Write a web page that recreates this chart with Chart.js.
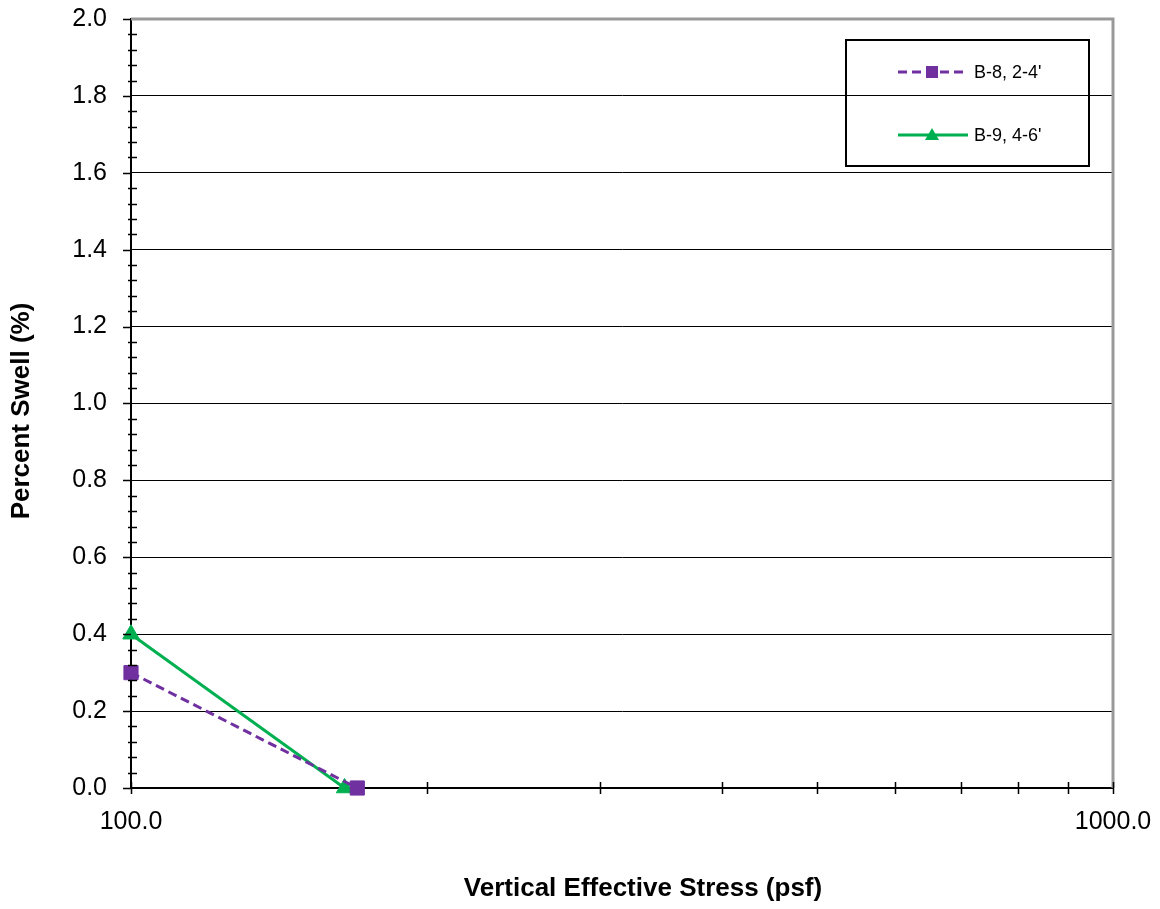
<!DOCTYPE html>
<html>
<head>
<meta charset="utf-8">
<script src="https://cdn.jsdelivr.net/npm/chart.js@4.4.1/dist/chart.umd.min.js"></script>
<style>
    html, body { margin: 0; padding: 0; background: #fff; }
</style>
</head>
<body>
<canvas id="myChart" width="1160" height="909"></canvas>
<script>
// data
const seriesNames = ["B-8, 2-4'", "B-9, 4-6'"];
const b8Stress = [100, 170];
const b8Swell = [0.3, 0.0];
const b9Stress = [100, 165];
const b9Swell = [0.4, 0.0];

// axis setup
const xTickValues = [100, 200, 300, 400, 500, 600, 700, 800, 900, 1000];
const xLabelValues = [100, 1000];
const yMin = 0, yMax = 2.0, yStep = 0.2, yMinorStep = 0.04;
const xTitle = "Vertical Effective Stress (psf)";
const yTitle = "Percent Swell (%)";

const FONT = "'Liberation Sans', Arial, sans-serif";

const toPoints = (xs, ys) => xs.map((x, i) => ({ x: x, y: ys[i] }));

// tick marks, frame, titles and the boxed legend
const extrasPlugin = {
    id: 'extras',
    afterDraw(chart) {
        const ctx = chart.ctx;
        const area = chart.chartArea;
        const xs = chart.scales.x;
        const ys = chart.scales.y;
        ctx.save();

        // gray top / right frame
        ctx.strokeStyle = '#999';
        ctx.lineWidth = 3;
        ctx.beginPath();
        ctx.moveTo(area.left, area.top);
        ctx.lineTo(area.right, area.top);
        ctx.lineTo(area.right, area.bottom);
        ctx.stroke();

        // y ticks
        ctx.strokeStyle = '#000';
        ctx.lineWidth = 1.5;
        ctx.beginPath();
        for (let v = yMin; v <= yMax + 1e-9; v += yMinorStep) {
            const py = Math.round(ys.getPixelForValue(v)) + 0.5;
            const major = Math.abs(v / yStep - Math.round(v / yStep)) < 1e-6;
            if (major) {
                ctx.moveTo(area.left - 8, py);
                ctx.lineTo(area.left, py);
            } else {
                ctx.moveTo(area.left - 3, py);
                ctx.lineTo(area.left + 6, py);
            }
        }
        // x ticks
        xTickValues.forEach(v => {
            const px = Math.round(xs.getPixelForValue(v)) + 0.5;
            ctx.moveTo(px, area.bottom - 6);
            ctx.lineTo(px, area.bottom + 6);
        });
        ctx.stroke();

        // axis titles
        ctx.fillStyle = '#000';
        ctx.font = 'bold 26px ' + FONT;
        ctx.textAlign = 'center';
        ctx.textBaseline = 'middle';
        ctx.fillText(xTitle, 643, 889);
        ctx.save();
        ctx.translate(22, 411);
        ctx.rotate(-Math.PI / 2);
        ctx.fillText(yTitle, 0, 0);
        ctx.restore();

        // legend box
        ctx.strokeStyle = '#000';
        ctx.lineWidth = 2;
        ctx.strokeRect(846, 40, 243, 126);
        const rows = [72, 135];
        chart.data.datasets.forEach((ds, i) => {
            const y = rows[i];
            ctx.strokeStyle = ds.borderColor;
            ctx.lineWidth = ds.borderWidth;
            ctx.setLineDash(ds.borderDash || []);
            ctx.beginPath();
            ctx.moveTo(898, y);
            ctx.lineTo(968, y);
            ctx.stroke();
            ctx.setLineDash([]);
            ctx.fillStyle = ds.pointBackgroundColor;
            if (ds.pointStyle === 'rect') {
                ctx.fillRect(926, y - 6, 12, 12);
            } else {
                ctx.beginPath();
                ctx.moveTo(932, y - 7);
                ctx.lineTo(939, y + 5);
                ctx.lineTo(925, y + 5);
                ctx.closePath();
                ctx.fill();
            }
            ctx.fillStyle = '#000';
            ctx.font = '18px ' + FONT;
            ctx.textAlign = 'left';
            ctx.textBaseline = 'middle';
            ctx.fillText(ds.label, 974, y + 1);
        });
        ctx.restore();
    }
};

const ctx = document.getElementById('myChart').getContext('2d');
const chart = new Chart(ctx, {
    type: 'scatter',
    data: {
        datasets: [{
            label: seriesNames[0],
            data: toPoints(b8Stress, b8Swell),
            showLine: true,
            borderColor: '#7030A0',
            backgroundColor: '#7030A0',
            pointBackgroundColor: '#7030A0',
            pointBorderColor: '#7030A0',
            borderWidth: 3,
            borderDash: [9, 5],
            pointStyle: 'rect',
            pointRadius: 10,
            pointBorderWidth: 1,
            clip: false
        }, {
            label: seriesNames[1],
            data: toPoints(b9Stress, b9Swell),
            showLine: true,
            borderColor: '#00B050',
            backgroundColor: '#00B050',
            pointBackgroundColor: '#00B050',
            pointBorderColor: '#00B050',
            borderWidth: 3,
            pointStyle: 'triangle',
            pointRadius: 9.5,
            pointBorderWidth: 1,
            clip: false
        }]
    },
    options: {
        responsive: false,
        animation: false,
        layout: { padding: { top: 19, right: 47, left: 0, bottom: 0 } },
        plugins: {
            legend: { display: false },
            tooltip: { enabled: false }
        },
        scales: {
            x: {
                type: 'logarithmic',
                min: 100,
                max: 1000,
                afterBuildTicks(scale) {
                    scale.ticks = xTickValues.map(v => ({ value: v }));
                },
                afterFit(scale) {
                    scale.height = 121;
                    scale.paddingLeft = 0;
                    scale.paddingRight = 0;
                },
                ticks: {
                    autoSkip: false,
                    maxRotation: 0,
                    padding: 19,
                    color: '#000',
                    font: { family: FONT, size: 25 },
                    callback: (v) => xLabelValues.includes(v) ? v.toFixed(1) : ''
                },
                grid: { display: false, drawTicks: false },
                border: { display: true, color: '#000', width: 2 }
            },
            y: {
                min: yMin,
                max: yMax,
                afterFit(scale) {
                    scale.width = 131;
                    scale.paddingTop = 0;
                    scale.paddingBottom = 0;
                },
                ticks: {
                    stepSize: yStep,
                    padding: 24,
                    color: '#000',
                    font: { family: FONT, size: 25 },
                    callback: (v) => v.toFixed(1)
                },
                grid: { color: '#000', lineWidth: 1, drawTicks: false },
                border: { display: true, color: '#000', width: 2 }
            }
        }
    },
    plugins: [extrasPlugin]
});
</script>
</body>
</html>
